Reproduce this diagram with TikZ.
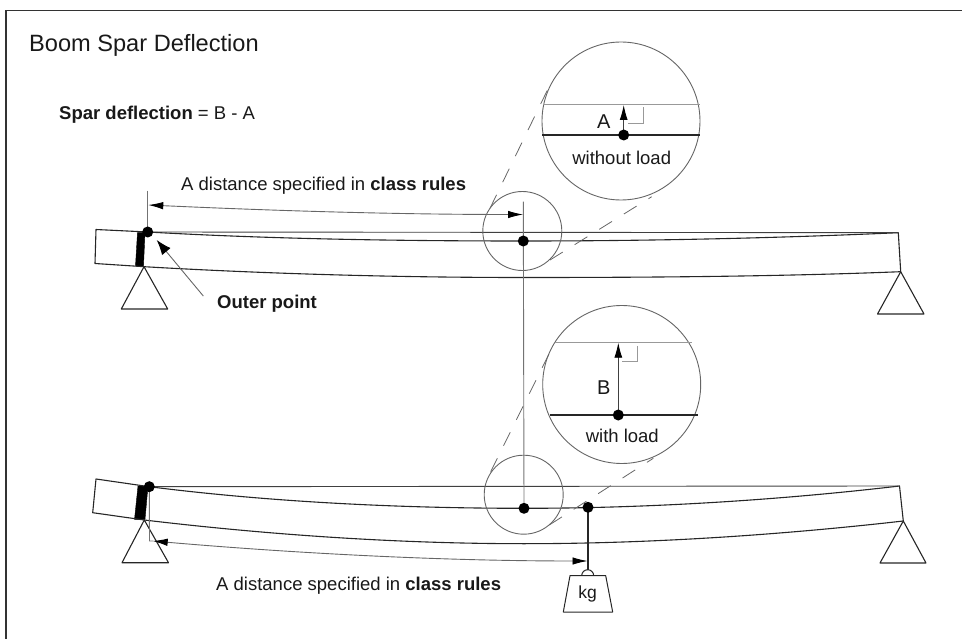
\documentclass[tikz,border=0pt]{standalone}
\usepackage{fontspec}
\setmainfont{Liberation Sans}
\usetikzlibrary{arrows.meta}
\newcommand{\lab}{\fontsize{18.5}{21}\selectfont}
\tikzset{
  x=1pt,y=-1pt,
  edge/.style={draw=black!85,line width=1.1pt,line join=round},
  thin line/.style={draw=black!55,line width=0.9pt},
  pale line/.style={draw=black!40,line width=1pt},
  frame line/.style={draw=black!80,line width=1.1pt},
  dim arrow/.style={draw=black!60,line width=0.9pt,{Latex[black,length=15pt,width=7.5pt]}-{Latex[black,length=15pt,width=7.5pt]}},
  lead arrow/.style={draw=black!60,line width=0.9pt,-{Latex[black,length=15pt,width=11pt]}},
  up arrow/.style={draw=black!75,line width=0.9pt,-{Latex[black,length=15pt,width=8pt]}},
  tangent/.style={draw=black!60,line width=0.8pt,dash pattern=on 15pt off 14pt},
  pin/.style={circle,fill=black,inner sep=0pt,minimum size=11pt},
  lens/.style={draw=black!60,line width=0.9pt,circle,inner sep=0pt},
  support/.style={draw=black!85,line width=1.1pt,line join=round},
  label/.style={inner sep=0pt,font=\lab,text=black!90},
  band/.style={fill=black,draw=black}
}
\begin{document}
\begin{tikzpicture}
\useasboundingbox (0,0) rectangle (962,639);
\draw[frame line] (6,639) -- (6,10.5) -- (962,10.5);

% texts
\node[label,anchor=base west,font=\fontsize{23.6}{26}\selectfont] (title) at (29,52) {Boom Spar Deflection};
\node[label,anchor=base west] (formula) at (59,120) {\textbf{Spar deflection} = B - A};
\node[label,anchor=base west] (dist1) at (181,190.5) {A distance specified in \textbf{class rules}};
\node[label,anchor=base west] (dist2) at (216,590.5) {A distance specified in \textbf{class rules}};
\node[label,anchor=base west] (outer) at (217,308.5) {\textbf{Outer point}};

% key points
\coordinate (p1) at (147.7,232);
\coordinate (m1) at (523.3,241);
\coordinate (r1t) at (898.3,232.7);
\coordinate (r1b) at (900.7,271.7);
\coordinate (b1) at (144,266.7);
\coordinate (p2) at (149.3,486.7);
\coordinate (m2) at (524,508.3);
\coordinate (r2t) at (899.5,486);
\coordinate (r2b) at (903.3,521);
\coordinate (b2) at (144.3,520);
\coordinate (hook) at (588,507.3);

% top beam
\fill[band] (137.5,232.5) -- (145,232.5) -- (143.5,266) -- (135.5,266) -- cycle;
\draw[edge] (p1) -- (96,229.5) -- (95,263.5) -- (b1)
  .. controls (270,274) and (400,277.5) .. (523.3,277.5)
  .. controls (650,277.5) and (780,276.5) .. (r1b) -- (r1t)
  .. controls (780,238) and (650,241) .. (m1)
  .. controls (400,241) and (270,239) .. (p1);
\draw[thin line,draw=black!75] (p1) -- (r1t);
\draw[support] (b1) -- (121.3,309) -- (167.7,309) -- cycle;
\draw[support] (r1b) -- (877.5,314) -- (924,314) -- cycle;

% bottom beam
\fill[band] (138,486) -- (148,486) -- (145,519.5) -- (134.5,519.5) -- cycle;
\draw[edge] (p2) -- (96,479) -- (92.7,512.7) -- (b2)
  .. controls (270,535) and (400,543.7) .. (524,543.7)
  .. controls (650,543.7) and (780,535) .. (r2b) -- (r2t)
  .. controls (780,500) and (650,508.3) .. (m2)
  .. controls (400,508.3) and (270,502) .. (p2);
\draw[thin line,draw=black!75] (p2) -- (r2t);
\draw[support] (b2) -- (122,562.7) -- (168.5,562.7) -- cycle;
\draw[support] (r2b) -- (880,563) -- (926,563) -- cycle;

% small lenses
\node[lens,minimum size=79pt] (s1) at (522.3,231) {};
\node[lens,minimum size=79pt] (s2) at (523.7,494.7) {};

% big lenses
\node[lens,minimum size=158pt,fill=white] (g1) at (621,121) {};
\node[lens,minimum size=158pt,fill=white] (g2) at (621.7,384.5) {};

% dashed tangents
\draw[tangent] (490,208.3) -- (548.3,88.3);
\draw[tangent] (550,260) -- (651.7,196.7);
\draw[tangent] (490.7,471.7) -- (549.3,353.3);
\draw[tangent] (549.3,525) -- (653.3,458.3);

% centre and dimension lines
\draw[thin line] (523.3,201.7) -- (m2);
\draw[thin line] (147.7,190.7) -- (p1);
\draw[thin line] (p2) -- (149.5,541) -- (153,541);
\draw[dim arrow] (148.3,205) .. controls (280,211) and (400,214.5) .. (523,214.5);
\draw[dim arrow] (152.7,541) .. controls (280,552) and (430,561) .. (587.5,561);
\draw[lead arrow] (203.3,296) -- (156.7,240);

% detail A
\coordinate (ga) at (623.7,135);
\draw[pale line] (542.8,104.7) -- (699.7,104.7);
\draw[edge] (542.3,135) -- (700,135);
\draw[up arrow] (ga) -- (623.7,105);
\draw[pale line,line width=0.9pt] (643.7,107.3) -- (643.7,123.3) -- (627.7,123.3);
\node[label,font=\fontsize{20}{22}\selectfont] (la) at (603.7,121.5) {A};
\node[label] (wo) at (621.7,158) {without load};
\node[pin] (ga pin) at (ga) {};

% detail B
\coordinate (gb) at (618.3,415);
\draw[pale line] (555,342.7) -- (691.7,342.7);
\draw[edge] (550,415) -- (697.7,415);
\draw[up arrow] (gb) -- (618.3,342.7);
\draw[pale line,line width=0.9pt] (637.7,346) -- (637.7,361) -- (622.3,361);
\node[label,font=\fontsize{20}{22}\selectfont] (lb) at (603.7,387.3) {B};
\node[label] (wi) at (622.3,435.7) {with load};
\node[pin] (gb pin) at (gb) {};

% weight
\draw[edge,line width=1.5pt] (hook) -- (588,570);
\draw[support,line width=1pt] (581.7,575.7) arc[start angle=180,end angle=360,radius=6];
\draw[support,line width=1pt] (570,575.7) -- (605.7,575.7) -- (612.7,612) -- (563.3,612) -- cycle;
\node[label,font=\fontsize{17.5}{20}\selectfont] (kg) at (587.7,594) {kg};

% pins
\node[pin] (p1 pin) at (p1) {};
\node[pin] (m1 pin) at (m1) {};
\node[pin] (p2 pin) at (p2) {};
\node[pin] (m2 pin) at (m2) {};
\node[pin] (hook pin) at (hook) {};
\end{tikzpicture}
\end{document}
